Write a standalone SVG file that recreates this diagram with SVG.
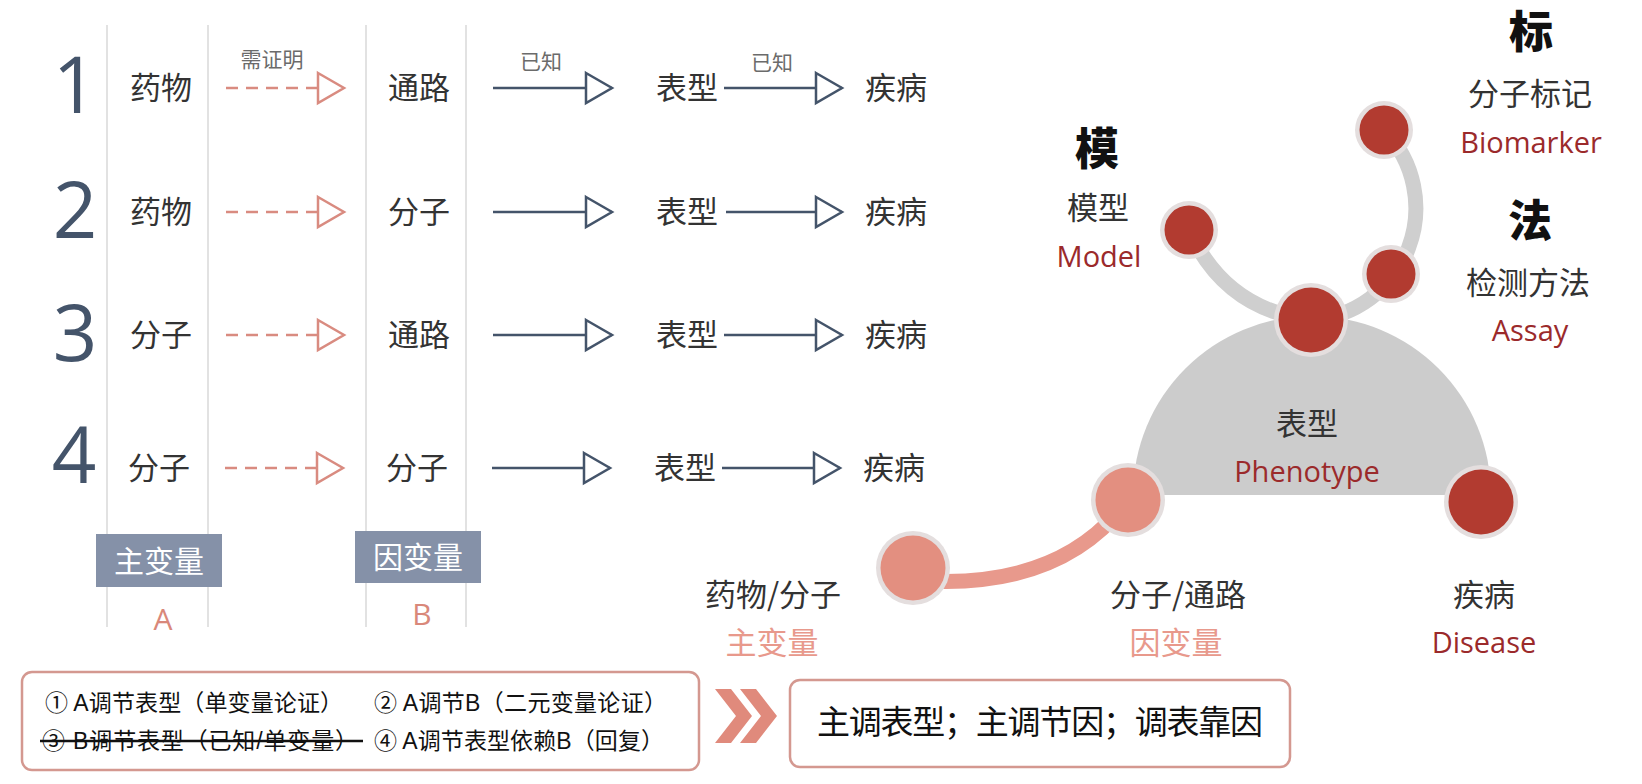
<svg xmlns="http://www.w3.org/2000/svg" width="1642" height="784" viewBox="0 0 1642 784">
<defs>
<style>
.cjk{font-family:"Noto Sans CJK SC","Noto Sans",sans-serif}
.row{font-family:"Noto Sans CJK SC",sans-serif;font-size:31px;fill:#333;text-anchor:middle}
.lbl{font-family:"Noto Sans CJK SC",sans-serif;font-size:21px;fill:#6b6b6b;text-anchor:middle}
.num{font-family:"Open Sans","Noto Sans",sans-serif;font-size:78px;fill:#44546a;text-anchor:middle}
.vline{stroke:#d9d9d9;stroke-width:1.5}
.solid{stroke:#44546a;stroke-width:2.5;fill:none}
.dash{stroke:#d98b80;stroke-width:2.5;fill:none;stroke-dasharray:12 8}
.tag{fill:#8591a8}
.tagt{font-family:"Noto Sans CJK SC",sans-serif;font-size:30px;fill:#fff;text-anchor:middle}
.ab{font-family:"Open Sans","Noto Sans",sans-serif;font-size:30px;fill:#d9887a;text-anchor:middle}
.callig{font-family:"Noto Sans CJK SC",serif;font-size:44px;font-weight:900;fill:#111;text-anchor:middle}
.zh{font-family:"Noto Sans CJK SC",sans-serif;font-size:31px;fill:#333;text-anchor:middle}
.en{font-family:"Open Sans","Noto Sans",sans-serif;font-size:29px;fill:#9b2a2b;text-anchor:middle}
.pinkt{font-family:"Noto Sans CJK SC",sans-serif;font-size:31px;fill:#e8998c;text-anchor:middle}
.ring{fill:#e4dede}
.red{fill:#b23b30}
.pink{fill:#e38f80}
.box{fill:#fff;stroke:#d49890;stroke-width:2.5}
.bt{font-family:"Liberation Sans","Noto Sans CJK SC",sans-serif;font-size:23px;fill:#111}
</style>
<marker id="triB" markerUnits="userSpaceOnUse" markerWidth="34" markerHeight="38" viewBox="-4 -4 34 38" refX="26" refY="15" orient="auto" overflow="visible">
<path d="M0,0 L26,15 L0,30 Z" fill="#fff" stroke="#44546a" stroke-width="2.5"/>
</marker>
<marker id="triP" markerUnits="userSpaceOnUse" markerWidth="34" markerHeight="38" viewBox="-4 -4 34 38" refX="26" refY="15" orient="auto" overflow="visible">
<path d="M0,0 L26,15 L0,30 Z" fill="#fff" stroke="#d98b80" stroke-width="2.5"/>
</marker>
</defs>
<rect width="1642" height="784" fill="#fff"/>

<g id="grid">
<line class="vline" x1="107" y1="25" x2="107" y2="627"/>
<line class="vline" x1="208" y1="25" x2="208" y2="627"/>
<line class="vline" x1="366" y1="25" x2="366" y2="627"/>
<line class="vline" x1="466" y1="25" x2="466" y2="627"/>
</g>

<g id="numbers">
<text class="num" x="75" y="113">1</text>
<text class="num" x="75" y="238">2</text>
<text class="num" x="75" y="361">3</text>
<text class="num" x="74" y="483">4</text>
</g>

<g id="connectors">
<line class="dash" x1="226" y1="88" x2="344" y2="88" marker-end="url(#triP)"/>
<line class="dash" x1="226" y1="212" x2="344" y2="212" marker-end="url(#triP)"/>
<line class="dash" x1="226" y1="335" x2="344" y2="335" marker-end="url(#triP)"/>
<line class="dash" x1="225" y1="468" x2="343" y2="468" marker-end="url(#triP)"/>
<line class="solid" x1="493" y1="88" x2="612" y2="88" marker-end="url(#triB)"/>
<line class="solid" x1="493" y1="212" x2="612" y2="212" marker-end="url(#triB)"/>
<line class="solid" x1="493" y1="335" x2="612" y2="335" marker-end="url(#triB)"/>
<line class="solid" x1="492" y1="468" x2="610" y2="468" marker-end="url(#triB)"/>
<line class="solid" x1="724" y1="88" x2="842" y2="88" marker-end="url(#triB)"/>
<line class="solid" x1="726" y1="212" x2="842" y2="212" marker-end="url(#triB)"/>
<line class="solid" x1="724" y1="335" x2="842" y2="335" marker-end="url(#triB)"/>
<line class="solid" x1="722" y1="468" x2="840" y2="468" marker-end="url(#triB)"/>
<text class="lbl" x="272" y="67">需证明</text>
<text class="lbl" x="541" y="69">已知</text>
<text class="lbl" x="772" y="70">已知</text>
</g>

<g id="row1">
<text class="row" x="161" y="99">药物</text>
<text class="row" x="419" y="99">通路</text>
<text class="row" x="687" y="99">表型</text>
<text class="row" x="896" y="99">疾病</text>
</g>
<g id="row2">
<text class="row" x="161" y="223">药物</text>
<text class="row" x="419" y="223">分子</text>
<text class="row" x="687" y="223">表型</text>
<text class="row" x="896" y="223">疾病</text>
</g>
<g id="row3">
<text class="row" x="161" y="346">分子</text>
<text class="row" x="419" y="346">通路</text>
<text class="row" x="687" y="346">表型</text>
<text class="row" x="896" y="346">疾病</text>
</g>
<g id="row4">
<text class="row" x="159" y="479">分子</text>
<text class="row" x="417" y="479">分子</text>
<text class="row" x="685" y="479">表型</text>
<text class="row" x="894" y="479">疾病</text>
</g>

<g id="tagA">
<rect class="tag" x="96" y="534" width="126" height="53"/>
<text class="tagt" x="159" y="572">主变量</text>
<text class="ab" x="163" y="630">A</text>
</g>
<g id="tagB">
<rect class="tag" x="355" y="531" width="126" height="52"/>
<text class="tagt" x="418" y="568">因变量</text>
<text class="ab" x="422" y="625">B</text>
</g>

<g id="phenotype-dome">
<path d="M1133,495 A179,179 0 0 1 1491,495 Z" fill="#cccccc"/>
<text class="zh" x="1307" y="435">表型</text>
<text class="en" x="1307" y="482">Phenotype</text>
</g>

<g id="arcs">
<path d="M1384,130 A112,112 0 0 1 1311,320" fill="none" stroke="#cfcfcf" stroke-width="15"/>
<path d="M1189,230 Q1225,310 1311,320" fill="none" stroke="#cfcfcf" stroke-width="15"/>
<path d="M913,580 Q1060,592 1128,500" fill="none" stroke="#e8998c" stroke-width="15"/>
</g>

<g id="model">
<circle class="ring" cx="1189" cy="230" r="29"/>
<circle class="red" cx="1189" cy="230" r="24.5"/>
<text class="callig" x="1097" y="165">模</text>
<text class="zh" x="1098" y="219">模型</text>
<text class="en" x="1099" y="267">Model</text>
</g>
<g id="biomarker">
<circle class="ring" cx="1384" cy="130" r="29"/>
<circle class="red" cx="1384" cy="130" r="24.5"/>
<text class="callig" x="1531" y="48">标</text>
<text class="zh" x="1530" y="105">分子标记</text>
<text class="en" x="1531" y="153">Biomarker</text>
</g>
<g id="assay">
<circle class="ring" cx="1391" cy="274" r="29"/>
<circle class="red" cx="1391" cy="274" r="24.5"/>
<text class="callig" x="1530" y="237">法</text>
<text class="zh" x="1528" y="294">检测方法</text>
<text class="en" x="1530" y="341">Assay</text>
</g>
<g id="phenotype-top">
<circle class="ring" cx="1311" cy="320" r="37"/>
<circle class="red" cx="1311" cy="320" r="32.5"/>
</g>
<g id="pathway">
<circle class="ring" cx="1128" cy="500" r="37"/>
<circle class="pink" cx="1128" cy="500" r="32.5"/>
<text class="zh" x="1178" y="606">分子/通路</text>
<text class="pinkt" x="1176" y="654">因变量</text>
</g>
<g id="disease">
<circle class="ring" cx="1481" cy="502" r="37"/>
<circle class="red" cx="1481" cy="502" r="32.5"/>
<text class="zh" x="1484" y="606">疾病</text>
<text class="en" x="1484" y="653">Disease</text>
</g>
<g id="drug">
<circle class="ring" cx="913" cy="568" r="37"/>
<circle class="pink" cx="913" cy="568" r="32.5"/>
<text class="zh" x="773" y="606">药物/分子</text>
<text class="pinkt" x="772" y="654">主变量</text>
</g>

<g id="claims">
<rect class="box" x="22" y="672" width="677" height="98" rx="10"/>
<text class="bt" x="45" y="711" textLength="298" lengthAdjust="spacing">① A调节表型（单变量论证）</text>
<text class="bt" x="374" y="711" textLength="293" lengthAdjust="spacing">② A调节B（二元变量论证）</text>
<text class="bt" x="42" y="749" textLength="316" lengthAdjust="spacing">③ B调节表型（已知/单变量）</text>
<line x1="40" y1="741" x2="363" y2="741" stroke="#111" stroke-width="2.5"/>
<text class="bt" x="374" y="749" textLength="290" lengthAdjust="spacing">④ A调节表型依赖B（回复）</text>
</g>

<g id="chevrons" fill="#e08a7c">
<polygon points="715,689 731,689 752,716 731,743 715,743 736,716"/>
<polygon points="740,689 756,689 777,716 756,743 740,743 761,716"/>
</g>

<g id="conclusion">
<rect class="box" x="790" y="680" width="500" height="87" rx="10"/>
<text class="cjk" x="817" y="734" font-size="33" fill="#111" textLength="446" lengthAdjust="spacing">主调表型；主调节因；调表靠因</text>
</g>
</svg>
